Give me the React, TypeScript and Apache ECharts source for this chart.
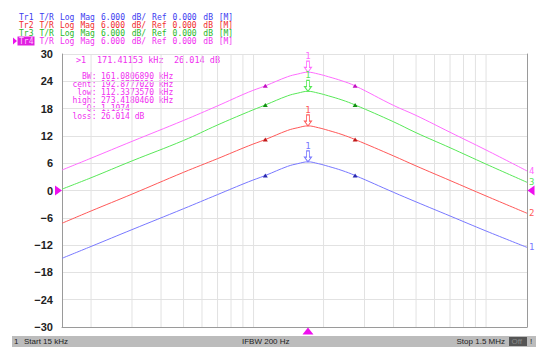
import React, { useEffect, useRef } from 'react';
import * as echarts from 'echarts';

// Frequencies in kHz (log x axis)
const freqKHz = [15, 20, 30, 50, 70, 95, 112.34, 140, 155, 171.41, 190, 210, 240, 273.42, 400, 500, 700, 1000, 1500];
const tr1Values = [-14.9, -12.3, -8.6, -4.0, -0.9, 1.9, 3.3, 5.3, 5.9, 6.3, 5.9, 5.3, 4.4, 3.3, -0.4, -2.5, -5.6, -8.9, -12.5];
const tr2Values = [-7.2, -4.5, -0.8, 4.0, 7.0, 9.8, 11.2, 13.2, 13.8, 14.2, 13.8, 13.2, 12.3, 11.2, 7.6, 5.4, 2.2, -1.2, -5.0];
const tr3Values = [0.3, 2.8, 6.5, 11.0, 14.4, 17.3, 18.8, 20.8, 21.4, 21.8, 21.4, 20.8, 19.9, 18.8, 15.1, 12.7, 9.4, 5.8, 1.8];
const tr4Values = [4.5, 7.1, 10.8, 15.4, 18.6, 21.6, 23.0, 25.0, 25.6, 26.0, 25.6, 25.0, 24.1, 23.0, 18.7, 16.5, 12.8, 8.9, 4.3];

const gridFreqs = [20, 30, 40, 50, 60, 70, 80, 90, 100, 200, 300, 400, 500, 600, 700, 800, 900, 1000];
const startFreq = 15;
const stopFreq = 1500;
const yMin = -30;
const yMax = 30;
const yStep = 6;

const markerFreq = 171.41;
const bwLowFreq = 112.34;
const bwHighFreq = 273.42;
const refLevel = 0;

const headerLines = [
  'Tr1 T/R Log Mag 6.000 dB/ Ref 0.000 dB [M]',
  'Tr2 T/R Log Mag 6.000 dB/ Ref 0.000 dB [M]',
  'Tr3 T/R Log Mag 6.000 dB/ Ref 0.000 dB [M]',
  'Tr4 T/R Log Mag 6.000 dB/ Ref 0.000 dB [M]',
];

const markerHead = ['>1', '171.41153 kHz', '26.014 dB'];
const markerLabels = ['BW:', 'cent:', 'low:', 'high:', 'Q:', 'loss:'];
const markerValues = ['161.0806890 kHz', '192.8777020 kHz', '112.3373570 kHz', '273.4180460 kHz', '1.1974', '26.014 dB'];

const footerStart = 'Start 15 kHz';
const footerMid = 'IFBW 200 Hz';
const footerStop = 'Stop 1.5 MHz';

const MONO = "'DejaVu Sans Mono', 'Liberation Mono', monospace";
const CW = 5.12;

const traces = [
  { num: '1', values: tr1Values, line: '#7878ff', text: '#3c3cf0', mark: '#2a2ab0' },
  { num: '2', values: tr2Values, line: '#ff5858', text: '#f02c2c', mark: '#c01818' },
  { num: '3', values: tr3Values, line: '#58e858', text: '#28b828', mark: '#129012' },
  { num: '4', values: tr4Values, line: '#ff6cff', text: '#f030f0', mark: '#c010c0' },
];

const L = Math.log10;
const PIN = 'path://M3,0L7,0L7,8L10,8L5,14L0,8L3,8Z';

function tokens(s: string) {
  const out: { t: string; i: number }[] = [];
  const re = /\S+/g;
  let m: RegExpExecArray | null;
  while ((m = re.exec(s))) out.push({ t: m[0], i: m.index });
  return out;
}

export default function App() {
  const ref = useRef<HTMLDivElement>(null);
  useEffect(() => {
    if (!ref.current) return;
    const chart = echarts.init(ref.current, undefined, { renderer: 'svg' });
    const iMark = freqKHz.indexOf(markerFreq);
    const iLow = freqKHz.indexOf(bwLowFreq);
    const iHigh = freqKHz.indexOf(bwHighFreq);

    const gridSeries = gridFreqs.map((f) => ({
      type: 'line',
      silent: true,
      z: 1,
      symbol: 'none',
      data: [[L(f), yMin], [L(f), yMax]],
      lineStyle: { color: '#e2e2e2', width: 1 },
    }));

    const traceSeries = traces.map((t, k) => {
      const mp: any[] = [
        {
          coord: [L(markerFreq), t.values[iMark]],
          symbol: PIN,
          symbolSize: [7, 11],
          symbolOffset: [0, '-50%'],
          itemStyle: { color: '#ffffff', borderColor: t.line, borderWidth: 1 },
          label: { show: true, position: 'top', distance: 0, formatter: '1', color: t.line, fontSize: 9, fontFamily: MONO },
        },
        {
          coord: [L(bwLowFreq), t.values[iLow]],
          symbol: 'triangle',
          symbolSize: [5, 4],
          itemStyle: { color: t.mark },
          label: { show: false },
        },
        {
          coord: [L(bwHighFreq), t.values[iHigh]],
          symbol: 'triangle',
          symbolSize: [5, 4],
          itemStyle: { color: t.mark },
          label: { show: false },
        },
      ];
      if (k === 3) {
        mp.push(
          {
            coord: [L(startFreq), refLevel],
            symbol: 'triangle',
            symbolRotate: -90,
            symbolSize: [10, 7],
            symbolOffset: [-3.5, 0],
            itemStyle: { color: '#ee10ee' },
            label: { show: false },
          },
          {
            coord: [L(stopFreq), refLevel],
            symbol: 'triangle',
            symbolRotate: 90,
            symbolSize: [10, 7],
            symbolOffset: [4, 0],
            itemStyle: { color: '#ee10ee' },
            label: { show: false },
          },
          {
            coord: [L(markerFreq), yMin],
            symbol: 'triangle',
            symbolSize: [11, 7],
            symbolOffset: [0, 4],
            itemStyle: { color: '#ee10ee' },
            label: { show: false },
          }
        );
      }
      return {
        type: 'line',
        z: 3,
        smooth: 0.4,
        symbol: 'none',
        data: freqKHz.map((f, i) => [L(f), t.values[i]]),
        lineStyle: { color: t.line, width: 1 },
        endLabel: { show: true, formatter: t.num, color: t.line, fontSize: 9, fontFamily: MONO, distance: 2 },
        markPoint: { silent: true, animation: false, data: mp },
      };
    });

    const HF = `8px ${MONO}`;
    const graphic: any[] = [];
    // active-trace indicator and highlight box (behind Tr4)
    graphic.push({
      type: 'polygon',
      shape: { points: [[13, 37.5], [17, 41], [13, 44.5]] },
      style: { fill: '#ee10ee' },
    });
    graphic.push({
      type: 'rect',
      shape: { x: 17.5, y: 36.5, width: 17, height: 9 },
      style: { fill: '#e020e0' },
    });
    headerLines.forEach((s, r) => {
      tokens(s).forEach((tk, j) => {
        const active = r === 3 && j === 0;
        graphic.push({
          type: 'text',
          left: 19 + tk.i * CW,
          top: 13 + r * 8,
          style: { text: tk.t, fill: active ? '#ffc8ff' : traces[r].text, font: HF, lineHeight: 8 },
        });
      });
    });

    // marker readout
    const MF = `8px ${MONO}`;
    const mCol = [76, 97, 174];
    markerHead.forEach((s, i) => {
      graphic.push({
        type: 'text',
        left: mCol[i],
        top: 55,
        style: { text: s, fill: '#f030f0', font: `8.5px ${MONO}`, lineHeight: 8 },
      });
    });
    markerLabels.forEach((s, i) => {
      graphic.push({
        type: 'text',
        right: 550 - 96.5,
        top: 72 + i * 8,
        style: { text: s, fill: '#f030f0', font: MF, lineHeight: 8 },
      });
      graphic.push({
        type: 'text',
        left: 101,
        top: 72 + i * 8,
        style: { text: markerValues[i], fill: '#f030f0', font: MF, lineHeight: 8 },
      });
    });

    // footer bar
    const FS = "8px 'Liberation Sans', Arial, sans-serif";
    graphic.push({ type: 'rect', shape: { x: 12, y: 336, width: 524, height: 11 }, style: { fill: '#bcbcbc' } });
    graphic.push({ type: 'text', left: 14, top: 337.5, style: { text: '1', fill: '#222', font: FS } });
    graphic.push({ type: 'text', left: 24, top: 337.5, style: { text: footerStart, fill: '#222', font: FS } });
    graphic.push({ type: 'text', left: 242, top: 337.5, style: { text: footerMid, fill: '#222', font: FS } });
    graphic.push({ type: 'text', right: 550 - 505, top: 337.5, style: { text: footerStop, fill: '#222', font: FS } });
    graphic.push({ type: 'rect', shape: { x: 509, y: 337, width: 18, height: 9 }, style: { fill: '#555' } });
    graphic.push({ type: 'text', left: 511.5, top: 337.5, style: { text: 'Off', fill: '#8a8a8a', font: FS } });
    graphic.push({ type: 'text', left: 530, top: 337.5, style: { text: '!', fill: '#222', font: FS } });

    chart.setOption({
      animation: false,
      backgroundColor: '#ffffff',
      grid: { left: 62, right: 23, top: 54, bottom: 32 },
      xAxis: {
        type: 'value',
        min: L(startFreq),
        max: L(stopFreq),
        axisLine: { show: true, onZero: false, lineStyle: { color: '#9a9a9a' } },
        axisTick: { show: false },
        axisLabel: { show: false },
        splitLine: { show: false },
      },
      yAxis: [
        {
          type: 'value',
          min: yMin,
          max: yMax,
          interval: yStep,
          axisLine: { show: true, onZero: false, lineStyle: { color: '#9a9a9a' } },
          axisTick: { show: false },
          axisLabel: {
            color: '#222',
            fontSize: 11,
            fontWeight: 'bold',
            fontFamily: "'Liberation Sans', Arial, sans-serif",
            margin: 9,
            formatter: (v: number) => (v < 0 ? '\u2212' + Math.abs(v) : String(v)),
          },
          splitLine: { show: true, lineStyle: { color: '#e2e2e2', width: 1 } },
        },
        {
          type: 'value',
          position: 'right',
          min: yMin,
          max: yMax,
          interval: yStep,
          axisLine: { show: true, onZero: false, lineStyle: { color: '#9a9a9a' } },
          axisTick: { show: false },
          axisLabel: { show: false },
          splitLine: { show: false },
        },
      ],
      series: [...gridSeries, ...traceSeries],
      graphic,
    });
    return () => chart.dispose();
  }, []);
  return <div ref={ref} style={{ position: 'fixed', left: 0, top: 0, width: 550, height: 359 }} />;
}
